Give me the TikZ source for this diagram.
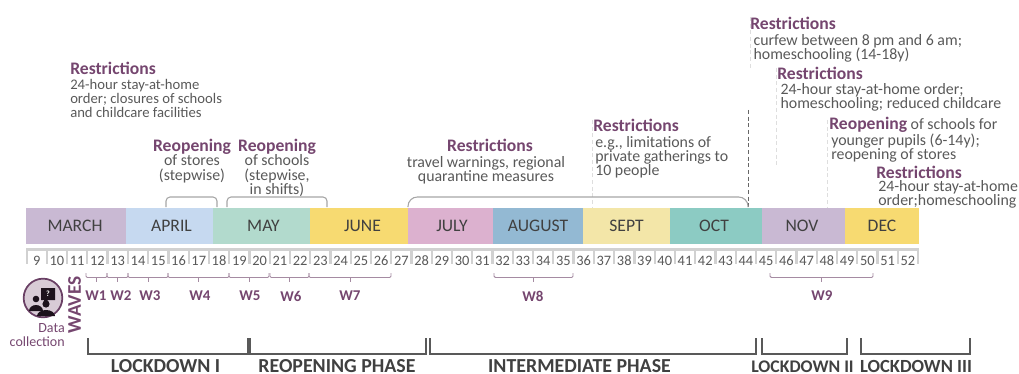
\documentclass[tikz,border=0pt]{standalone}
\usepackage{fontspec}
\setmainfont{Carlito}
\definecolor{plum}{HTML}{75466F}
\definecolor{txt}{HTML}{595959}
\definecolor{mon}{HTML}{404040}
\definecolor{brk}{HTML}{A6A6A6}
\definecolor{wavb}{HTML}{A58BA2}
\newcommand{\hd}[1]{{\fontsize{13.2pt}{13.2pt}\selectfont\bfseries\color{plum}#1}}
\begin{document}
\begin{tikzpicture}[x=0.75pt,y=-0.75pt,
  monthbox/.style={anchor=north west,minimum height=27.5pt,inner sep=0pt,outer sep=0pt,text=mon,font=\fontsize{13.2pt}{13.2pt}\selectfont},
  weeknum/.style={inner sep=0pt,text=txt,font=\fontsize{10.8pt}{10.8pt}\selectfont},
  note/.style={inner sep=0pt,text=txt,align=left,font=\fontsize{11.9pt}{10.7pt}\selectfont},
  notes/.style={note,font=\fontsize{11pt}{10.7pt}\selectfont},
  notec/.style={note,align=center},
  wlab/.style={inner sep=0pt,text=plum,font=\fontsize{11.2pt}{11.2pt}\selectfont\bfseries},
  phase/.style={inner sep=0pt,anchor=south,text depth=0pt,text=mon,font=\fontsize{14.9pt}{14.9pt}\selectfont\bfseries},
  phases/.style={phase,font=\fontsize{13.3pt}{13.3pt}\selectfont\bfseries},
  phaset/.style={phase,font=\fontsize{13.9pt}{13.9pt}\selectfont\bfseries},
  topbr/.style={draw=brk,line width=0.8pt,rounded corners=3pt},
  wavebr/.style={draw=wavb,line width=0.7pt,rounded corners=1pt},
  lockbr/.style={draw=black!65,line width=1.4pt},
  guide/.style={draw=black!13,line width=0.7pt,dash pattern=on 3pt off 2pt},
  guided/.style={draw=black!60,line width=0.7pt,dash pattern=on 3pt off 2pt}]
\useasboundingbox (0,0) rectangle (1019,374);
% guides
\coordinate (g1a) at (750,17); \coordinate (g1b) at (750,68);
\coordinate (g2a) at (776,68); \coordinate (g2b) at (776,165);
\coordinate (g3a) at (827,120); \coordinate (g3b) at (827,207);
\coordinate (g4a) at (592,120); \coordinate (g4b) at (592,207);
\coordinate (g5a) at (748,110); \coordinate (g5b) at (748,207);
\draw[guide] (g1a)--(g1b); \draw[guide] (g2a)--(g2b); \draw[guide] (g3a)--(g3b); \draw[guide] (g4a)--(g4b);
\draw[guided] (g5a)--(g5b);
% months
\foreach \nm/\lbl/\a/\b/\c/\d in {mar/MARCH/26/126/C9B9D3/-1,apr/APRIL/126/213/C6D9F0/2,may/MAY/213/310/B2DACD/2,jun/JUNE/310/408/F7DA71/3.5,jul/JULY/408/493/DCB1CF/1.5,aug/AUGUST/493/583/93B9D3/0,sep/SEPT/583/670/F3E6A8/0,oct/OCT/670/762/8CCBC3/-2,nov/NOV/762/845/C9B9D3/-1.5,dec/DEC/845/919/F7DA71/0}{
  \definecolor{mc}{HTML}{\c}
  \pgfmathsetmacro{\w}{(\b-\a)*0.75}
  \pgfmathsetmacro{\k}{\d*1.5}
  \node[monthbox,fill=mc,minimum width=\w pt] (\nm) at (\a,207.5) {\hspace*{\k pt}\lbl};
}
% weeks
\fill[black!18] (26,248) rectangle (919,264);
\foreach \n [evaluate=\n as \xx using {36.7+(\n-9)*20.26}] in {9,...,52}{
  \fill[white] (\xx-9,251) rectangle (\xx+9,266);
  \node[weeknum] (wk\n) at (\xx,261) {\n};
}
% top brackets
\draw[topbr] (166,207)--(166,197)--(217,197)--(217,207);
\draw[topbr] (227,207)--(227,197)--(327,197)--(327,207);
\draw[topbr,rounded corners=7pt] (408,207)--(408,197)--(748,197)--(748,207);
% notes
\node[notes,anchor=north west] (n1) at (70,61.5) {\hd{Restrictions}\\[0.5pt]24-hour stay-at-home\\order; closures of schools\\and childcare facilities};
\node[notec,anchor=north] (n2) at (192,139) {\hd{Reopening}\\of stores\\(stepwise)};
\node[notec,anchor=north] (n3) at (277,139) {\hd{Reopening}\\of schools\\(stepwise,\\in shifts)};
\node[notec,anchor=north] (n4) at (486,139) {\hspace*{6pt}\hd{Restrictions}\\[1pt]travel warnings, regional\\quarantine measures};
\node[note,anchor=north west] (n5) at (593,119) {\hd{Restrictions}\\[1pt]\hspace*{1.5pt}e.g., limitations of\\\hspace*{1.5pt}private gatherings to\\\hspace*{1.5pt}10 people};
\node[note,anchor=north west] (n6) at (750,17) {\hd{Restrictions}\\[1pt]\hspace*{2.5pt}curfew between 8 pm and 6 am;\\\hspace*{2.5pt}homeschooling (14-18y)};
\node[note,anchor=north west] (n7) at (777,67) {\hd{Restrictions}\\[0.3pt]\hspace*{2.5pt}24-hour stay-at-home order;\\\hspace*{2.5pt}homeschooling; reduced childcare};
\node[note,anchor=north west] (n8) at (829,116.5) {\hd{Reopening} of schools for\\\hspace*{1.5pt}younger pupils (6-14y);\\\hspace*{1.5pt}reopening of stores};
\node[note,anchor=north west] (n9) at (876,165.5) {\hd{Restrictions}\\[-1pt]\hspace*{1.5pt}24-hour stay-at-home\\\hspace*{1.5pt}order;homeschooling};
% wave brackets
\foreach \nm/\a/\b/\t/\lbl in {a/86/107/96/W1,b/107/128/121/W2,c/128/168/150/W3,d/168/229/200/W4,e/229/269/250/W5,f/270/309/291/W6,g/309/391/350/W7,h/494/573/533/W8,i/770/873/822/W9}{
  \pgfmathsetmacro{\m}{(\a+\b)/2}
  \coordinate (wl\nm) at (\a,273); \coordinate (wr\nm) at (\b,273);
  \draw[wavebr] (wl\nm)--(\a,277.5)--(\b,277.5)--(wr\nm);
  \draw[wavebr] (\m,277.5)--(\m,282);
  \node[wlab] (wt\nm) at (\t,296) {\lbl};
}
% data collection icon
\node[circle,draw=plum!90!black,fill=plum!40!white,fill opacity=0.7,line width=1.3pt,minimum size=29pt,inner sep=0pt] (ic) at (43,298) {};
\fill[black!75!plum] (36,299) circle (3.3) (29,311) arc[start angle=180,end angle=0,x radius=7,y radius=-6]--cycle;
\fill[black!75!plum] (46,304) circle (3.6) (37,316) arc[start angle=180,end angle=0,x radius=9,y radius=-6]--cycle;
\fill[black!75!plum] (41,288) rectangle (55,300) (44,300)--(44,304)--(48,300)--cycle;
\node[inner sep=0pt,text=white,font=\fontsize{6pt}{6pt}\selectfont\bfseries] (q) at (48,294) {?};
\node[inner sep=0pt,align=right,anchor=north east,text=plum,font=\fontsize{10.5pt}{10pt}\selectfont] (dc) at (65,323.5) {Data\\collection};
\node[inner sep=0pt,rotate=90,text=plum,font=\fontsize{14.5pt}{14.5pt}\selectfont\bfseries] (wv) at (74.5,305) {WAVES};
% lockdown brackets
\foreach \nm/\a/\b/\lbl/\m/\st in {la/88/248/LOCKDOWN I/165.5/phase,lb/250/426/REOPENING PHASE/337/phase,lc/430/756/INTERMEDIATE PHASE/579.5/phase,ld/762/847/LOCKDOWN II/802.5/phases,le/861/970/LOCKDOWN III/916/phaset}{
  \coordinate (\nm l) at (\a,338); \coordinate (\nm r) at (\b,338);
  \draw[lockbr] (\nm l)--(\a,354)--(\b,354)--(\nm r);
  \node[\st] (\nm t) at (\m,373) {\lbl};
}
\end{tikzpicture}
\end{document}
